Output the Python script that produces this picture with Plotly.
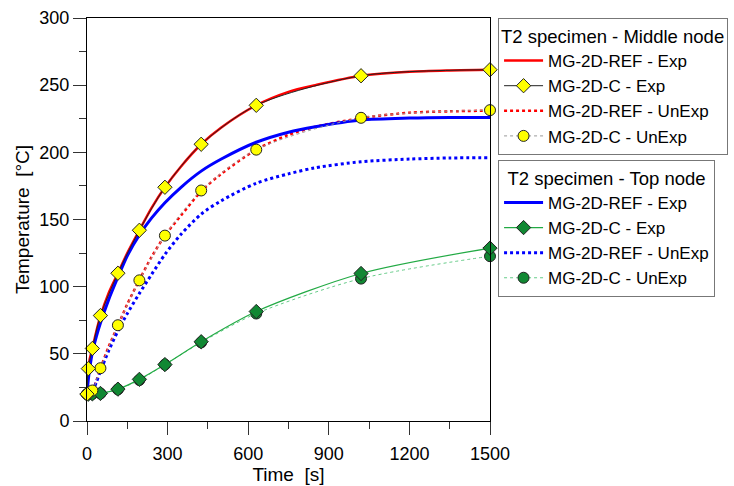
import plotly.graph_objects as go

# ---- data ----
t_curve = [0, 5, 10, 20, 35, 50, 80, 115, 150, 195, 240, 290, 350, 425, 500, 630, 750, 850, 1020, 1200, 1350, 1500]

mid_ref_exp = [20, 39, 46, 54, 67, 78, 95, 110, 125, 142, 158.5, 174, 189.5, 206, 218.5, 235, 245, 250, 257, 260, 261, 261.5]
mid_ref_unexp = [20, 20.3, 20.8, 22.5, 30, 39, 55, 71, 87, 105, 122, 138, 153, 171, 184, 202, 213, 219, 225.5, 229.5, 230.5, 231]
top_ref_exp = [20, 31, 39, 51, 63, 73, 90, 107, 123, 138.5, 151, 162.5, 174, 186, 195, 207.5, 215, 219, 224, 225.5, 226, 226]
top_ref_unexp = [20, 20.3, 20.8, 22, 29, 37, 52, 67, 80, 95, 109, 124, 139, 154, 164, 177, 184, 188.5, 193, 195, 195.8, 196]

t_pts = [0, 5, 20, 50, 115, 195, 290, 425, 630, 1020, 1500]
mid_c_exp = [20, 39, 54, 78.5, 110, 142, 174, 206, 235, 257, 261.5]
mid_c_unexp = [20, 20.5, 22.7, 39.3, 71.3, 104.7, 138, 171.6, 202, 225.7, 231.4]
top_c_exp = [20, 20, 20.2, 20.5, 23.7, 31, 42, 59, 81.5, 109.8, 128.7]
top_c_unexp = [20, 20, 20.2, 20.5, 23.5, 30.5, 42, 58.5, 80, 106, 122.7]

legend_mid_title = "T2 specimen - Middle node"
legend_top_title = "T2 specimen - Top node"
x_title = "Time\u00a0 [s]"
y_title = "Temperature\u00a0 [°C]"

fig = go.Figure()

def line_trace(x, y, name, color, width, dash, legend, rank):
    return go.Scatter(x=x, y=y, name=name, mode="lines",
                      line=dict(color=color, width=width, dash=dash, shape="spline", smoothing=0.8),
                      legend=legend, legendrank=rank, cliponaxis=False)

def marker_trace(x, y, name, lcolor, lwidth, dash, symbol, mfill, msize, legend, rank):
    return go.Scatter(x=x, y=y, name=name, mode="lines+markers",
                      line=dict(color=lcolor, width=lwidth, dash=dash, shape="spline", smoothing=0.8),
                      marker=dict(symbol=symbol, size=msize, color=mfill,
                                  line=dict(color="#222222", width=1)),
                      legend=legend, legendrank=rank, cliponaxis=False)

# REF curves
fig.add_trace(line_trace(t_curve, mid_ref_unexp, "MG-2D-REF - UnExp", "#ff0000", 2.5, "dot", "legend", 3))
fig.add_trace(line_trace(t_curve, top_ref_unexp, "MG-2D-REF - UnExp", "#0000ff", 3, "dot", "legend2", 3))
fig.add_trace(line_trace(t_curve, mid_ref_exp, "MG-2D-REF - Exp", "#ff0000", 2.5, "solid", "legend", 1))
fig.add_trace(line_trace(t_curve, top_ref_exp, "MG-2D-REF - Exp", "#0000ff", 3, "solid", "legend2", 1))

# C curves with markers
fig.add_trace(marker_trace(t_pts, top_c_unexp, "MG-2D-C - UnExp", "#66cc88", 1, "dot", "circle", "#118833", 11, "legend2", 4))
fig.add_trace(marker_trace(t_pts, top_c_exp, "MG-2D-C - Exp", "#22aa44", 1.2, "solid", "diamond", "#118833", 11, "legend2", 2))
fig.add_trace(marker_trace(t_pts, mid_c_unexp, "MG-2D-C - UnExp", "#999999", 1, "dot", "circle", "#ffff00", 11, "legend", 4))
fig.add_trace(marker_trace(t_pts, mid_c_exp, "MG-2D-C - Exp", "#222222", 1, "solid", "diamond", "#ffff00", 11, "legend", 2))

font_family = "Liberation Sans, Arial, sans-serif"

fig.update_layout(
    width=734, height=486,
    margin=dict(l=87, r=244, t=18, b=65, autoexpand=False),
    plot_bgcolor="white", paper_bgcolor="white",
    font=dict(family=font_family, size=18, color="black"),
    xaxis=dict(range=[0, 1500], tick0=0, dtick=300, ticks="outside", ticklen=13, tickwidth=1,
               tickcolor="#333333", showline=True, linecolor="black", linewidth=1, mirror=True,
               showgrid=False, zeroline=False, automargin=False, ticklabelstandoff=3,
               minor=dict(dtick=150, ticks="outside", ticklen=7, tickcolor="#333333", showgrid=False),
               tickfont=dict(size=18),
               title=dict(text=x_title, font=dict(size=19), standoff=4)),
    yaxis=dict(range=[0, 300], tick0=0, dtick=50, ticks="outside", ticklen=13, tickwidth=1,
               tickcolor="#333333", showline=True, linecolor="black", linewidth=1, mirror=True,
               showgrid=False, zeroline=False, automargin=False,
               minor=dict(dtick=25, ticks="outside", ticklen=7, tickcolor="#333333", showgrid=False),
               tickfont=dict(size=18),
               title=dict(text=y_title, font=dict(size=19), standoff=4)),
    legend=dict(x=1.02, xanchor="left", y=1.0, yanchor="top",
                title=dict(text=legend_mid_title, side="top", font=dict(size=18.5)),
                bordercolor="#777777", borderwidth=1, bgcolor="white",
                font=dict(size=17), itemwidth=39, traceorder="normal"),
    legend2=dict(x=1.02, xanchor="left", y=0.648, yanchor="top",
                 title=dict(text=legend_top_title, side="top center", font=dict(size=18.5)),
                 bordercolor="#777777", borderwidth=1, bgcolor="white",
                 font=dict(size=17), itemwidth=39, traceorder="normal"),
)

fig.write_html("out.html", config={"displayModeBar": False},
               post_script="document.body.style.margin='0';")
